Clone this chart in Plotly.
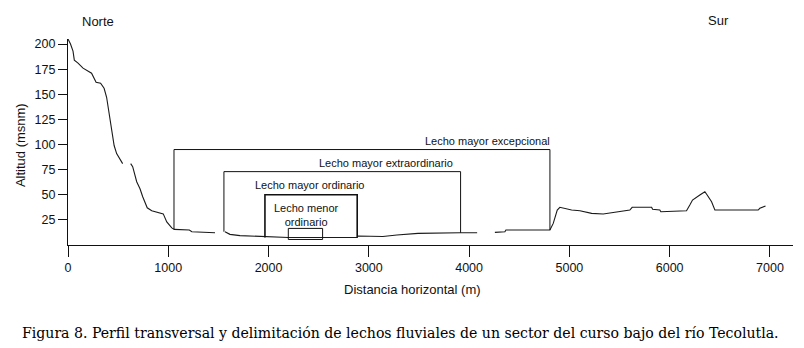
import plotly.graph_objects as go

# Profile (distance m, altitude msnm); None = pen gaps in the original drawing
prof_x = [0, 25, 50, 63, 100, 150, 235, 280, 325, 360, 385, 410, 435, 460, 485, 512, 545, None,
          625, 645, 685, 718, 745, 790, 835, 900, 950, 985, 1035, 1060, 1150, 1210, 1235, 1466, None,
          1565, 1615, 1715, 1964, 2197, 2539, 2884, 2890, 3140, 3280, 3490, 3910, 4080, None,
          4257, 4357, 4367, 4806, 4839, 4879, 4905, 4955, 5022, 5105, 5222, 5337, 5437, 5503, 5603,
          5626, 5820, 5830, 5902, 5912, 6168, 6201, 6228, 6301, 6351, 6374, 6418, 6451, 6883, 6899, 6956]
prof_y = [205, 200, 193, 184, 181, 176, 171, 162, 161, 156, 147, 131, 114, 99, 91, 86, 81, None,
          81, 78, 63, 56, 48, 37, 34, 32, 31, 23, 17, 15.5, 15.5, 15, 13.2, 12.2, None,
          13.2, 10.6, 9.3, 8.3, 7.5, 7.5, 7.5, 8.9, 8.5, 9.9, 11.6, 12.2, 12.2, None,
          12.6, 13.2, 14.9, 14.9, 21.5, 34.8, 37.5, 36.5, 34.8, 34.1, 31.5, 30.8, 32.1, 33.1, 34.8,
          37.5, 37.5, 35.5, 34.8, 33.1, 34.1, 39.8, 44.7, 49.7, 53, 49.7, 43, 34.8, 34.8, 36.5, 38.8]

# Channel-bed boxes
box_names = ["Lecho mayor excepcional", "Lecho mayor extraordinario",
             "Lecho mayor ordinario", "Lecho menor<br>ordinario"]
box_left = [1057, 1555, 1964, 2197]
box_right = [4806, 3915, 2884, 2539]
box_top = [95, 73, 50, 16.5]
box_base_left = [15.5, 13.2, 7.5, 5.5]
box_base_right = [14.9, 12.2, 7.5, 5.5]
label_x = [4187, 3176, 2408, 2383]
label_y = [103.7, 81.8, 59.6, 30.2]

x_ticks = [0, 1000, 2000, 3000, 4000, 5000, 6000, 7000]
y_ticks = [25, 50, 75, 100, 125, 150, 175, 200]

fig = go.Figure()
fig.add_trace(go.Scatter(x=prof_x, y=prof_y, mode="lines",
                         line=dict(color="#1a1a1a", width=1.1), connectgaps=False,
                         hoverinfo="skip"))

box_widths = [1.0, 1.0, 1.6, 1.0]
for i in range(len(box_names)):
    if i == 3:
        xs = [box_left[i], box_left[i], box_right[i], box_right[i], box_left[i]]
        ys = [box_base_left[i], box_top[i], box_top[i], box_base_right[i], box_base_left[i]]
    else:
        xs = [box_left[i], box_left[i], box_right[i], box_right[i]]
        ys = [box_base_left[i], box_top[i], box_top[i], box_base_right[i]]
    fig.add_trace(go.Scatter(x=xs, y=ys, mode="lines",
                             line=dict(color="#111111", width=box_widths[i]),
                             hoverinfo="skip"))
    fig.add_annotation(x=label_x[i], y=label_y[i], text=box_names[i], showarrow=False,
                       xref="x", yref="y", xanchor="center", yanchor="middle",
                       font=dict(family="Liberation Sans, Arial", size=11, color="#111111"))

tick_font = dict(family="Liberation Sans, Arial", size=12.5, color="#111111")

fig.update_xaxes(range=[0, 7230], tickvals=x_ticks, ticktext=[str(v) for v in x_ticks],
                 ticks="outside", ticklen=11, tickwidth=1, tickcolor="#111111",
                 showline=True, linecolor="#111111", linewidth=1.3, showgrid=False,
                 zeroline=False, tickfont=tick_font, fixedrange=True)
fig.update_yaxes(range=[0, 205], tickvals=y_ticks, ticktext=[str(v) for v in y_ticks],
                 ticks="outside", ticklen=9, tickwidth=1, tickcolor="#111111",
                 showline=True, linecolor="#111111", linewidth=1.3, showgrid=False,
                 zeroline=False, tickfont=tick_font, fixedrange=True)

common = dict(showarrow=False, xref="paper", yref="paper",
              font=dict(family="Liberation Sans, Arial", size=13, color="#111111"))
fig.add_annotation(x=0.0414, y=1.087, text="Norte", xanchor="center", yanchor="middle", **common)
fig.add_annotation(x=0.8966, y=1.092, text="Sur", xanchor="center", yanchor="middle", **common)
fig.add_annotation(x=0.4745, y=-0.2136, text="Distancia horizontal (m)",
                   xanchor="center", yanchor="middle", **common)
fig.add_annotation(x=-0.0662, y=0.485, text="Altitud (msnm)", textangle=-90,
                   xanchor="center", yanchor="middle", **common)
fig.add_annotation(x=0.459, y=-0.427, xref="paper", yref="paper", showarrow=False,
                   text="Figura 8. Perfil transversal y delimitación de lechos fluviales de un sector del curso bajo del río Tecolutla.",
                   xanchor="center", yanchor="middle",
                   font=dict(family="DejaVu Serif", size=14.1, color="#000000"))

# page body has an 8px margin; size/margins compensate so the plot area lands at the reference spot
fig.update_layout(width=796, height=340, showlegend=False,
                  margin=dict(l=60, r=11, t=31, b=103),
                  paper_bgcolor="white", plot_bgcolor="white")

fig.write_html("out.html")
